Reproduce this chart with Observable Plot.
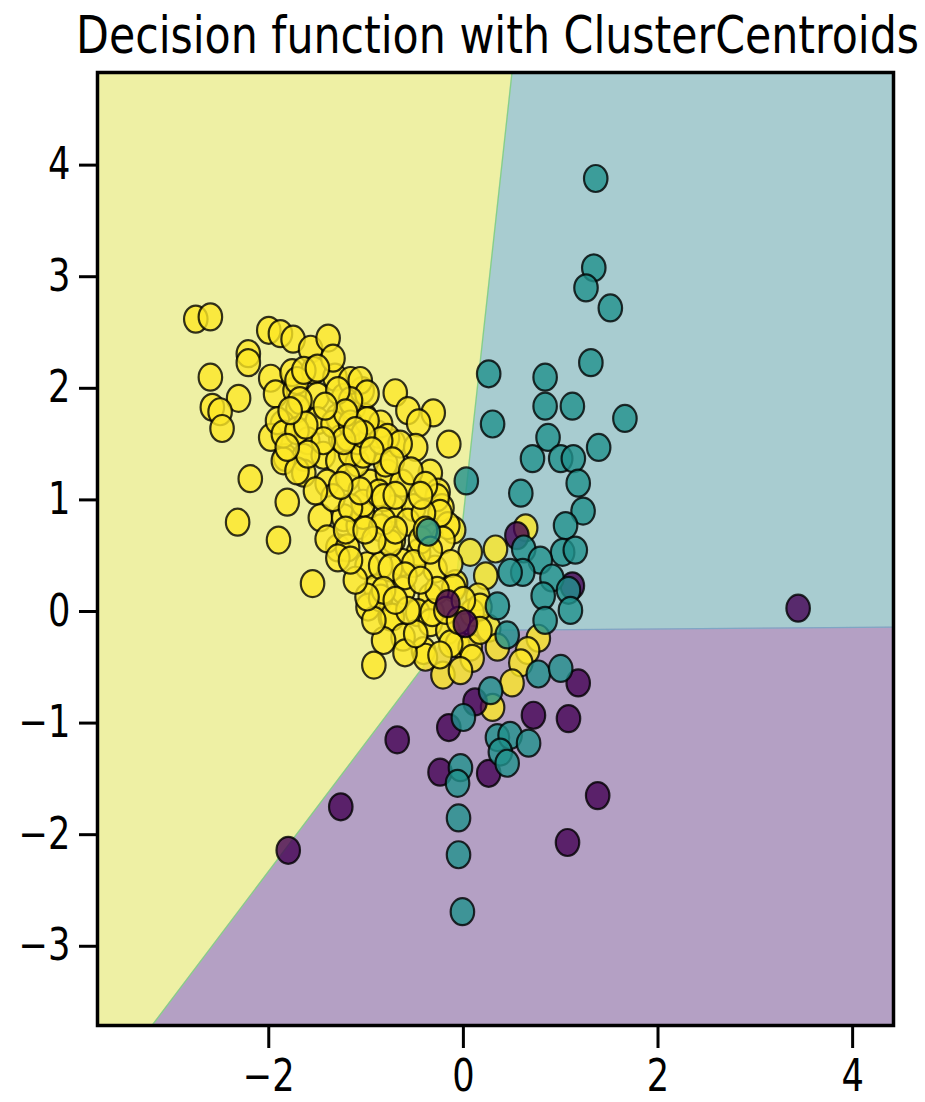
<!DOCTYPE html>
<html><head><meta charset="utf-8">
<script src="https://cdn.jsdelivr.net/npm/d3@7"></script>
<script src="https://cdn.jsdelivr.net/npm/@observablehq/plot@0.6"></script>
<style>
body{margin:0;background:#fff;font-family:"DejaVu Sans",sans-serif;}
#title{position:relative;height:62px;width:925px;overflow:visible}
#title span{position:absolute;left:76px;top:9px;font-size:52px;line-height:52px;white-space:nowrap;transform-origin:0 0;color:#000;font-family:"DejaVu Sans"}
#chart svg{display:block}
</style></head><body>
<div id="title"><span id="ttext">Decision function with ClusterCentroids</span></div>
<div id="chart"></div>
<script>
// axis setup
const xDomain = [-3.76, 4.42];
const yDomain = [-3.71, 4.83];
const xTicks = [-2, 0, 2, 4];
const yTicks = [-3, -2, -1, 0, 1, 2, 3, 4];

// decision regions (vertices in data units)
const yellowRegion = [[-3.76,4.83],[0.50,4.83],[-0.13,-0.17],[-3.20,-3.71],[-3.76,-3.71]];
const tealRegion = [[0.50,4.83],[4.42,4.83],[4.42,-0.14],[-0.13,-0.17]];
const purpleRegion = [[-0.13,-0.17],[4.42,-0.14],[4.42,-3.71],[-3.20,-3.71]];
const yellowBoundary = [[0.50,4.83],[-0.13,-0.17],[-3.20,-3.71]];
const tealPurpleBoundary = [[-0.13,-0.17],[4.42,-0.14]];

// class 2 (yellow)
const yellowPoints = [
[-2.75,2.62],[-2.60,2.64],[-2.21,2.31],[-2.21,2.23],[-2.60,2.10],[-2.31,1.91],[-2.58,1.83],[-2.50,1.79],[-2.48,1.64],
[-2.00,2.52],[-1.88,2.49],[-1.75,2.44],[-1.57,2.35],[-1.39,2.45],[-1.98,2.09],[-1.93,1.95],[-1.73,1.98],[-1.76,2.14],
[-1.54,2.16],[-1.32,2.10],[-1.34,2.27],[-1.23,1.92],[-1.50,1.93],[-1.70,1.82],[-1.86,1.68],[-1.98,1.56],[-1.50,1.71],
[-1.29,1.74],[-1.60,1.53],[-1.83,1.38],[-1.64,1.38],[-1.44,1.40],[-1.29,1.35],[-2.19,1.19],[-1.81,0.98],[-2.32,0.80],
[-1.90,0.64],[-1.55,0.25],[-0.70,1.96],[-0.31,1.78],[-0.15,1.50],[-1.85,1.35],[-1.64,1.24],[-1.47,0.84],[-1.29,0.57],
[-1.40,1.15],[-1.23,0.84],[-1.08,0.77],[-1.40,0.65],[-1.03,0.86],[-0.96,1.15],[-0.78,1.24],[-0.72,0.92],[-0.99,0.41],
[-0.90,0.21],[-0.98,0.04],[-0.75,-0.05],[-1.09,1.33],[-0.85,0.75],[-0.72,0.64],[-1.16,1.42],[-1.13,1.83],[-1.04,1.98],
[-0.57,1.80],[-0.46,1.69],[-0.72,1.51],[-0.49,1.47],[-0.34,1.24],[-0.63,1.15],[-0.80,1.33],[-1.19,1.20],[-1.09,1.53],
[-0.88,1.59],[-1.01,1.74],[-1.26,1.55],[-0.26,1.07],[-0.22,0.93],[-0.51,0.93],[-1.03,0.97],[0.64,0.75],[0.33,0.56],
[-0.10,0.73],[0.07,0.53],[0.23,0.32],[-0.08,0.25],[-0.29,0.38],[-0.46,0.53],[-0.63,0.44],[-0.85,0.41],[-0.75,0.61],
[-0.57,0.80],[-0.87,1.06],[-0.27,1.02],[-0.16,0.77],[0.15,0.13],[0.09,-0.01],[-0.34,0.13],[-0.62,0.19],[-0.85,0.12],
[-0.73,-0.05],[-0.47,-0.01],[-0.34,-0.10],[-0.16,-0.17],[-0.06,-0.29],[0.07,-0.32],[0.26,-0.15],[0.35,-0.32],[-0.41,-0.35],
[-0.62,-0.23],[-0.82,-0.26],[-0.92,-0.08],[0.77,-0.24],[0.66,-0.35],[0.59,-0.46],[0.50,-0.64],[0.09,-0.42],[-0.21,-0.57],
[-0.39,-0.41],[-0.60,-0.37],[-0.49,-0.20],[-0.32,-0.01],[-0.57,0.01],[-0.13,-0.29],[0.17,0.04],[0.30,-0.86],[-0.92,-0.48],
[-0.85,1.68],[-0.78,1.56],[-0.65,1.50],[-0.24,0.88],[-0.82,1.02],[-1.19,1.56],[-1.03,1.41],[-1.71,1.26],[-1.34,1.02],
[-1.16,0.93],[-0.82,0.81],[-0.41,0.88],[-0.21,0.64],[-0.44,0.64],[-0.92,0.64],[-1.19,0.57],[-1.29,0.48],[-0.75,0.39],
[-0.51,0.43],[-0.13,0.43],[-0.10,0.21],[-0.27,0.19],[-0.82,0.19],[-0.99,0.13],[-1.71,2.07],[-1.64,2.16],[-1.50,2.18],
[-1.16,2.07],[-1.06,2.07],[-0.99,1.95],[-1.16,1.89],[-1.29,1.98],[-1.68,1.89],[-1.91,1.71],[-1.85,1.59],[-1.71,1.62],
[-1.34,1.68],[-1.16,1.68],[-0.99,1.71],[-0.85,1.53],[-1.03,1.59],[-1.23,1.53],[-1.44,1.53],[-1.60,1.41],[-1.81,1.47],
[-1.21,1.78],[-1.42,1.84],[-1.62,1.67],[-1.78,1.80],[-1.11,1.62],[-0.94,1.44],[-0.73,1.35],[-0.54,1.26],[-0.39,1.13],
[-0.44,1.04],[-0.70,1.04],[-1.06,1.08],[-1.26,1.13],[-1.52,1.08],[-1.21,0.73],[-1.01,0.73],[-0.70,0.73],[-0.39,0.73],
[-0.34,0.55],[-0.60,0.32],[-0.44,0.28],[-0.18,0.01],[-0.70,0.10],[-1.11,0.28],[-1.16,0.46],[0.00,0.10],[-0.05,-0.08],
[0.17,-0.17],[-0.24,-0.39],[-0.03,-0.53]
];

// class 1 (teal)
const tealPoints = [
[1.36,3.88],[1.34,3.08],[1.26,2.90],[1.51,2.72],[1.31,2.23],[0.26,2.13],[0.84,2.10],[0.84,1.84],[1.12,1.84],[1.66,1.73],
[0.30,1.68],[0.87,1.56],[1.39,1.47],[0.71,1.37],[1.00,1.37],[1.13,1.37],[1.18,1.15],[0.03,1.17],[0.59,1.06],[1.23,0.90],
[1.05,0.77],[1.02,0.53],[1.15,0.55],[0.62,0.56],[0.79,0.46],[0.61,0.35],[0.48,0.35],[0.91,0.30],[0.82,0.14],[1.08,0.19],
[1.10,0.01],[0.35,0.05],[0.84,-0.08],[0.45,-0.21],[-0.36,0.71],[0.77,-0.56],[1.00,-0.51],[0.28,-0.71],[0.00,-0.95],
[0.35,-1.13],[0.48,-1.11],[0.38,-1.26],[0.45,-1.36],[0.67,-1.18],[-0.03,-1.40],[-0.06,-1.54],[-0.05,-1.85],[-0.05,-2.18],
[-0.01,-2.69]
];

// class 0 (purple)
const purplePoints = [
[3.44,0.03],[1.12,0.23],[0.55,0.68],[-0.16,0.07],[0.02,-0.11],[1.18,-0.64],[0.72,-0.93],[1.08,-0.96],[0.12,-0.81],
[-0.15,-1.04],[-0.68,-1.15],[-0.24,-1.44],[0.26,-1.45],[1.38,-1.65],[1.07,-2.07],[-1.26,-1.75],[-1.80,-2.14]
];

const colors = {yellowBg:"#eef0a4", tealBg:"#a8ccd0", purpleBg:"#b4a0c4", yellow:"#fde725", teal:"#21918c", purple:"#440154"};

const ellipse = {draw(ctx, size){
  const r = Math.sqrt(size/Math.PI), rx = r*0.87, ry = r, k = 0.5523;
  ctx.moveTo(rx,0);
  ctx.bezierCurveTo(rx,ry*k,rx*k,ry,0,ry);
  ctx.bezierCurveTo(-rx*k,ry,-rx,ry*k,-rx,0);
  ctx.bezierCurveTo(-rx,-ry*k,-rx*k,-ry,0,-ry);
  ctx.bezierCurveTo(rx*k,-ry,rx,-ry*k,rx,0);
  ctx.closePath();
}};

const X = d => d[0], Y = d => d[1];
const region = (pts, c) => Plot.line(pts, {x: X, y: Y, fill: c, stroke: c, strokeWidth: 0.5, curve: "linear-closed"});
const dots = (pts, c) => Plot.dot(pts, {x: X, y: Y, r: 13.5, symbol: ellipse, fill: c, fillOpacity: 0.8, stroke: "black", strokeOpacity: 0.8, strokeWidth: 2.2});

const svg = Plot.plot({
  width: 925, height: 1040,
  marginTop: 10, marginBottom: 77, marginLeft: 97, marginRight: 32,
  style: {fontFamily: "DejaVu Sans", color: "black", background: "white"},
  x: {domain: xDomain, label: null},
  y: {domain: yDomain, label: null},
  marks: [
    region(yellowRegion, colors.yellowBg),
    region(tealRegion, colors.tealBg),
    region(purpleRegion, colors.purpleBg),
    Plot.line(yellowBoundary, {x: X, y: Y, stroke: "#86cf86", strokeWidth: 1.3}),
    Plot.line(tealPurpleBoundary, {x: X, y: Y, stroke: "#7fa6c4", strokeWidth: 1.3}),
    dots(yellowPoints, colors.yellow),
    dots(purplePoints, colors.purple),
    dots(tealPoints, colors.teal),
    Plot.frame({stroke: "black", strokeWidth: 3.5}),
    Plot.axisX({ticks: xTicks, tickSize: 23, tickPadding: 11, fontSize: 44, strokeWidth: 3, label: null}),
    Plot.axisY({ticks: yTicks, tickSize: 18, tickPadding: 9, fontSize: 44, strokeWidth: 3, label: null})
  ]
});
svg.querySelectorAll('g[aria-label="x-axis tick label"] text, g[aria-label="y-axis tick label"] text').forEach(t => {
  t.setAttribute("transform", (t.getAttribute("transform") || "") + " scale(0.8,1)");
});
document.getElementById("chart").appendChild(svg);
const span = document.getElementById("ttext");
const w = span.getBoundingClientRect().width;
span.style.transform = `scaleX(${843 / w})`;
</script>
</body></html>
